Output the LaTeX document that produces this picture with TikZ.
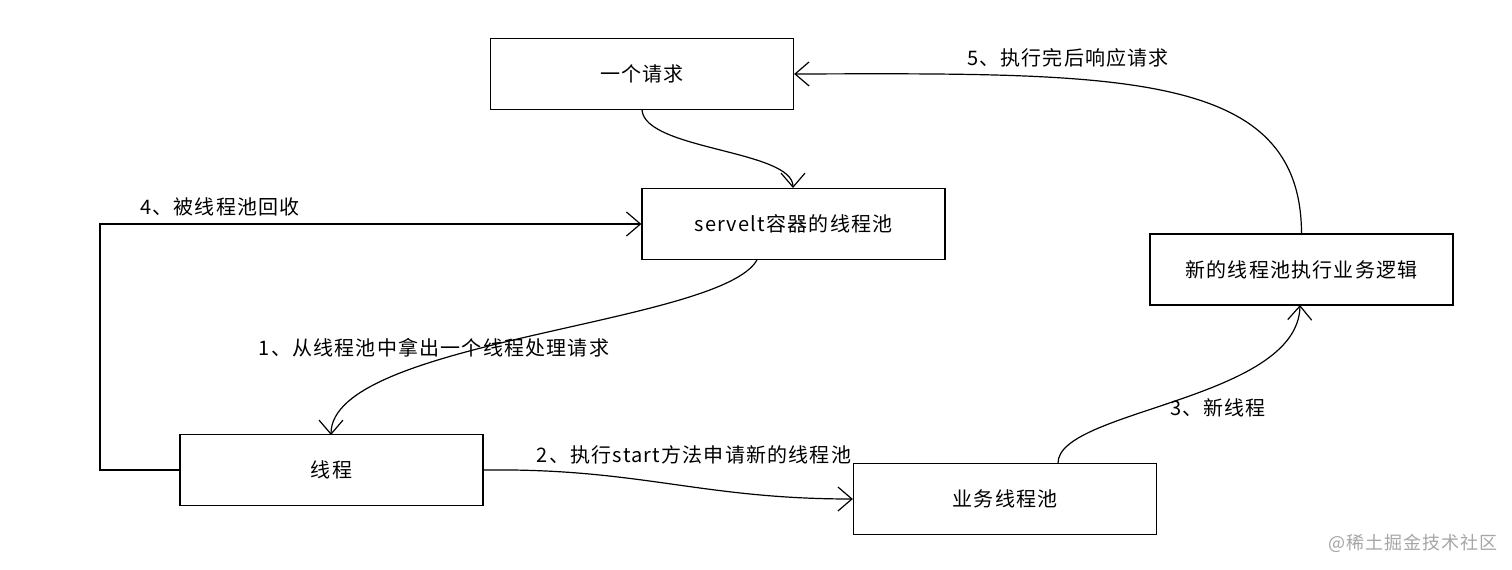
\documentclass[tikz,border=0pt]{standalone}
\usepackage{fontspec}
\setmainfont{Noto Sans CJK SC}[LetterSpace=6]
\usetikzlibrary{arrows.meta}
\begin{document}
\begin{tikzpicture}[x=1pt,y=-1pt,
  box/.style={draw=black,line width=1.3pt,minimum width=303pt,minimum height=71pt,inner sep=0pt,font=\fontsize{20}{23}\selectfont},
  lbl/.style={font=\fontsize{20}{23}\selectfont,inner sep=0pt},
  conn/.style={line width=1.2pt,-{Straight Barb[length=14pt,width=24pt,line width=1.2pt]}}]
\useasboundingbox[fill=white] (0,0) rectangle (1512,570);
\node[box] (a) at (642,74) {一个请求};
\node[box] (b) at (793.5,224) {servelt容器的线程池};
\node[box] (c) at (331.5,470) {线程};
\node[box] (d) at (1005,499) {业务线程池};
\node[box] (e) at (1301.5,269.5) {新的线程池执行业务逻辑};
\coordinate (bo) at (757,260);
\coordinate (cb) at (331,435);
\coordinate (ds) at (1058,463);
\coordinate (et) at (1300,305);
\coordinate (ab) at (642,110);
\coordinate (bt) at (793,188);
\coordinate (corner1) at (100,470);
\coordinate (corner2) at (100,224);
% A -> B
\draw[conn] (ab) .. controls (645,150) and (793,150) .. (bt);
% B -> C
\draw[conn] (bo) .. controls (720,325) and (331,340) .. (cb);
% C -> D
\draw[conn] (c.east) .. controls (640,468) and (700,499) .. (d.west);
% D -> E
\draw[conn] (ds) .. controls (1058,410) and (1298,400) .. (et);
% E -> A
\draw[conn] (e.north) .. controls (1301,70) and (1120,73) .. (a.east);
% C -> B (recycle)
\draw[conn] (c.west) -- (corner1) -- (corner2) -- (b.west);
\node[lbl] (l5) at (1068,58) {5、执行完后响应请求};
\node[lbl] (l4) at (220,207) {4、被线程池回收};
\node[lbl] (l1) at (434,348) {1、从线程池中拿出一个线程处理请求};
\node[lbl] (l2) at (694,455) {2、执行start方法申请新的线程池};
\node[lbl] (l3) at (1218,408) {3、新线程};
\node[inner sep=0pt,font=\fontsize{18}{21}\selectfont,text=black!35] (wm) at (1413,543) {@稀土掘金技术社区};
\end{tikzpicture}
\end{document}
